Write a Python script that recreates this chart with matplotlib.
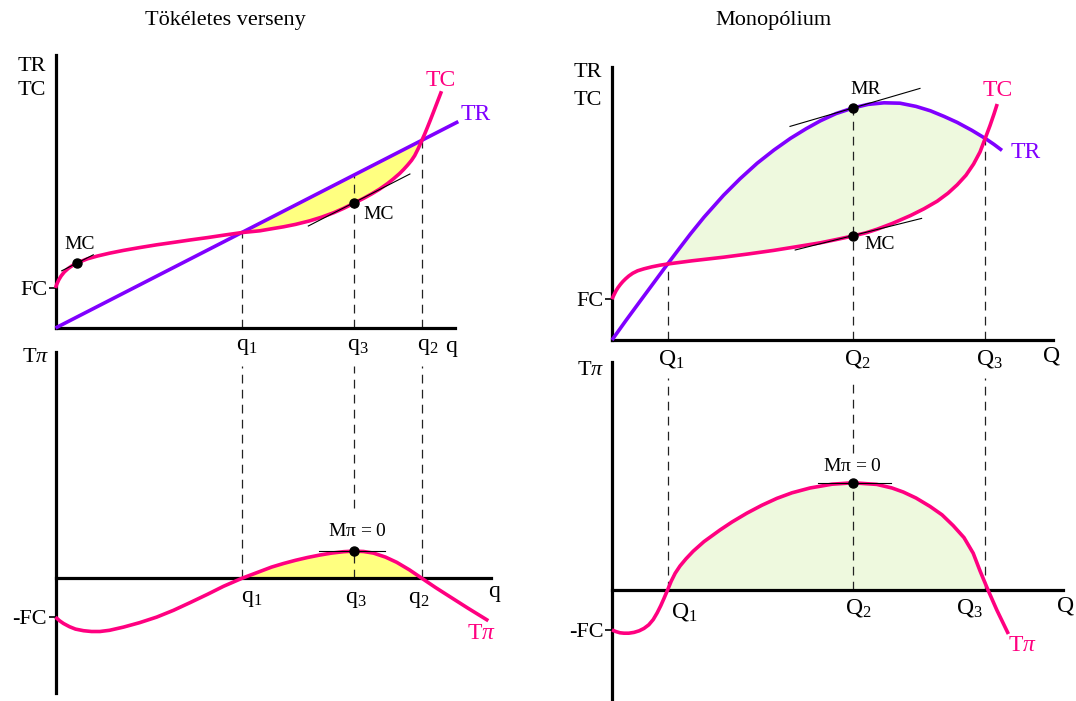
import matplotlib
matplotlib.use('Agg')
import matplotlib.pyplot as plt
import numpy as np

plt.rcParams['font.family'] = ['Liberation Serif', 'DejaVu Serif']
plt.rcParams['mathtext.fontset'] = 'custom'
plt.rcParams['mathtext.rm'] = 'Liberation Serif'
plt.rcParams['mathtext.it'] = 'Liberation Serif:italic'

W, H = 1076, 701
PX = 40  # pixels per unit, same on every panel

PINK = '#ff0080'
PURPLE = '#8000ff'
YELLOW = '#ffff80'
GREEN = '#eef9de'

# ---- perfect competition (left) ----
pc_tr_q = [0.0, 10.07]
pc_tr = [0.0, 5.16]
pc_tc_q = [0.0, 0.03, 0.08, 0.14, 0.22, 0.32, 0.45, 0.6, 0.8, 1.05, 1.35, 1.7, 2.1,
           2.53, 2.95, 3.36, 3.8, 4.2, 4.66, 5.11, 5.4, 5.7, 6.0, 6.36, 6.65, 6.95,
           7.2, 7.46, 7.7, 7.9, 8.1, 8.3, 8.45, 8.6, 8.7, 8.8, 8.9, 8.98, 9.07, 9.16,
           9.23, 9.3, 9.38, 9.45, 9.55, 9.65]
pc_tc = [1.0, 1.09, 1.20, 1.30, 1.40, 1.49, 1.58, 1.65, 1.73, 1.80, 1.87, 1.94, 2.01,
         2.08, 2.14, 2.20, 2.26, 2.32, 2.386, 2.43, 2.48, 2.53, 2.59, 2.68, 2.77, 2.88,
         2.99, 3.12, 3.24, 3.35, 3.47, 3.61, 3.73, 3.86, 3.96, 4.07, 4.19, 4.31, 4.49,
         4.693, 4.85, 5.02, 5.22, 5.40, 5.66, 5.92]
pc_fc = 1.0
pc_q1, pc_q3, pc_q2 = 4.66, 7.46, 9.16
pc_marks_q = [0.53, 7.46]
pc_marks = [1.63, 3.12]
pc_tan_left = ([0.155, 0.945], [1.43, 1.83])
pc_tan_right = ([6.32, 8.86], [2.55, 3.85])

pc_pi_q = [0.0, 0.1, 0.2, 0.35, 0.5, 0.7, 0.9, 1.11, 1.35, 1.7, 2.1, 2.53, 2.95, 3.36,
           3.8, 4.2, 4.66, 5.11, 5.4, 5.7, 6.0, 6.3, 6.6, 6.9, 7.2, 7.46, 7.7, 7.95,
           8.25, 8.53, 8.85, 9.16, 9.5, 9.86, 10.3, 10.82]
pc_pi = [-0.97, -1.06, -1.13, -1.21, -1.27, -1.31, -1.33, -1.33, -1.30, -1.22, -1.11,
         -0.97, -0.80, -0.61, -0.40, -0.20, 0.0, 0.17, 0.28, 0.37, 0.45, 0.52, 0.58,
         0.63, 0.665, 0.68, 0.67, 0.63, 0.53, 0.40, 0.21, 0.0, -0.23, -0.46, -0.74,
         -1.06]
pc_pi_max = 0.68

# ---- monopoly (right) ----
mo_tr_q = [0.0, 0.35, 0.71, 1.05, 1.39, 1.7, 1.96, 2.3, 2.79, 3.2, 3.63, 4.05, 4.46,
           4.85, 5.21, 5.6, 6.02, 6.4, 6.8, 7.2, 7.6, 7.96, 8.3, 8.63, 9.0, 9.33,
           9.55, 9.75]
mo_tr = [0.0, 0.49, 0.98, 1.44, 1.90, 2.31, 2.65, 3.07, 3.62, 4.03, 4.42, 4.75, 5.04,
         5.28, 5.48, 5.66, 5.80, 5.89, 5.93, 5.92, 5.84, 5.73, 5.59, 5.44, 5.24, 5.04,
         4.89, 4.74]
mo_tc_q = [0.0, 0.03, 0.06, 0.1, 0.15, 0.21, 0.27, 0.34, 0.42, 0.52, 0.64, 0.8, 1.0,
           1.2, 1.39, 2.0, 2.79, 3.4, 4.04, 4.6, 5.21, 5.6, 6.02, 6.35, 6.63, 7.0,
           7.46, 7.8, 8.13, 8.4, 8.63, 8.85, 9.04, 9.2, 9.33, 9.45, 9.55, 9.63]
mo_tc = [1.02, 1.09, 1.15, 1.23, 1.31, 1.39, 1.46, 1.53, 1.60, 1.67, 1.73, 1.78, 1.83,
         1.87, 1.90, 1.98, 2.07, 2.15, 2.24, 2.33, 2.43, 2.51, 2.60, 2.68, 2.77, 2.91,
         3.11, 3.28, 3.47, 3.67, 3.88, 4.12, 4.40, 4.70, 5.04, 5.36, 5.65, 5.90]
mo_fc = 1.02
mo_Q1, mo_Q2, mo_Q3 = 1.39, 6.02, 9.33
mo_mr_tan = ([4.45, 7.7], [5.34, 6.29])
mo_mc_tan = ([4.58, 7.74], [2.25, 3.04])

mo_pi_q = [0.0, 0.1, 0.2, 0.3, 0.42, 0.55, 0.68, 0.8, 0.92, 1.03, 1.13, 1.22, 1.3,
           1.39, 1.48, 1.58, 1.7, 1.85, 2.03, 2.3, 2.7, 3.0, 3.37, 3.75, 4.12, 4.5,
           4.95, 5.5, 6.02, 6.62, 7.0, 7.28, 7.6, 7.95, 8.25, 8.53, 8.8, 9.03, 9.2,
           9.4, 9.62, 9.91]
mo_pi = [-1.0, -1.04, -1.07, -1.08, -1.08, -1.06, -1.02, -0.96, -0.87, -0.74, -0.57,
         -0.39, -0.21, 0.0, 0.22, 0.42, 0.60, 0.78, 0.97, 1.21, 1.50, 1.70, 1.92, 2.12,
         2.29, 2.43, 2.55, 2.645, 2.68, 2.64, 2.55, 2.45, 2.30, 2.09, 1.88, 1.61,
         1.31, 0.92, 0.48, 0.0, -0.5, -1.1]
mo_pi_max = 2.68

fig = plt.figure(figsize=(W / 100, H / 100), dpi=100)
fig.patch.set_facecolor('white')


def panel(x0, y0, xlim, ylim):
    # x0, y0: pixel position of the origin, counted from the top left corner
    left = x0 + xlim[0] * PX
    right = x0 + xlim[1] * PX
    top = y0 - ylim[1] * PX
    bottom = y0 - ylim[0] * PX
    ax = fig.add_axes([left / W, 1 - bottom / H, (right - left) / W, (bottom - top) / H])
    ax.set_xlim(xlim)
    ax.set_ylim(ylim)
    ax.patch.set_visible(False)
    for s in ('top', 'right'):
        ax.spines[s].set_visible(False)
    for s in ('left', 'bottom'):
        ax.spines[s].set_position(('data', 0))
        ax.spines[s].set_linewidth(2.3)
        ax.spines[s].set_zorder(2.5)
    ax.set_xticks([])
    ax.tick_params(axis='y', length=5, width=1.2, pad=1, labelsize=16)
    return ax


def curve(ax, q, v, color):
    ax.plot(q, v, color=color, lw=2.6, clip_on=False, zorder=3,
            solid_capstyle='butt', solid_joinstyle='round')


def dashes(ax, xs, tops, bottoms=0):
    ax.vlines(xs, bottoms, tops, colors='#222222', linestyles=(0, (7, 5)), lw=0.9,
              clip_on=False, zorder=2)


def dots(ax, q, v):
    ax.plot(q, v, 'o', color='black', ms=6.5, clip_on=False, zorder=4)


def thin(ax, seg):
    ax.plot(seg[0], seg[1], color='black', lw=0.8, clip_on=False, zorder=3.5)


def label(ax, x, y, s, size=17, color='black'):
    ax.text(x, y, s, ha='center', va='center', fontsize=size, color=color)


MPI = 'M$\\mathrm{\\pi}$ = 0'

fig.text(225 / W, 1 - 20 / H, 'Tökéletes verseny', ha='center', va='center', fontsize=16)
fig.text(773 / W, 1 - 21 / H, 'Monopólium', ha='center', va='center', fontsize=16)

# top left: TR and TC under perfect competition
ax = panel(55.5, 328, (0, 9.99), (0, 6.83))
ax.set_yticks([pc_fc], ['FC'])
sel = (np.array(pc_tc_q) >= pc_q1) & (np.array(pc_tc_q) <= pc_q2)
ax.fill(np.array(pc_tc_q)[sel], np.array(pc_tc)[sel], color=YELLOW, lw=0, zorder=1)
dashes(ax, [pc_q1, pc_q3, pc_q2], [np.interp(x, pc_tr_q, pc_tr) for x in (pc_q1, pc_q3, pc_q2)])
curve(ax, pc_tr_q, pc_tr, PURPLE)
curve(ax, pc_tc_q, pc_tc, PINK)
thin(ax, pc_tan_left)
thin(ax, pc_tan_right)
dots(ax, pc_marks_q, pc_marks)
label(ax, -0.59, 6.53, 'TR', 16)
label(ax, -0.59, 5.93, 'TC', 16)
label(ax, 0.61, 2.08, 'MC', 14)
label(ax, 8.09, 2.85, 'MC', 14)
label(ax, 9.64, 6.2, 'TC', 17, PINK)
label(ax, 10.51, 5.33, 'TR', 17, PURPLE)
label(ax, pc_q1 + 0.12, -0.45, 'q$_1$')
label(ax, pc_q3 + 0.1, -0.45, 'q$_3$')
label(ax, pc_q2 + 0.15, -0.45, 'q$_2$')
label(ax, 9.89, -0.45, 'q')

# bottom left: total profit
ax = panel(55.5, 578.3, (0, 10.9), (-2.87, 5.66))
ax.set_yticks([pc_pi[0]], ['-FC'])
sel = np.array(pc_pi) >= 0
ax.fill(np.array(pc_pi_q)[sel], np.array(pc_pi)[sel], color=YELLOW, lw=0, zorder=1)
# the q3 guide breaks for the label and picks up again under the peak
dashes(ax, [pc_q1, pc_q3, pc_q2], [5.3, 5.3, 5.3], [0, 1.76, 0])
dashes(ax, [pc_q3], [pc_pi_max])
curve(ax, pc_pi_q, pc_pi, PINK)
thin(ax, ([6.59, 8.24], [pc_pi_max, pc_pi_max]))
dots(ax, [pc_q3], [pc_pi_max])
label(ax, -0.49, 5.53, 'T$\\pi$', 16)
label(ax, 7.54, 1.18, MPI, 14)
label(ax, 10.66, -1.39, 'T$\\pi$', 17, PINK)
label(ax, 10.96, -0.32, 'q')
label(ax, 4.91, -0.5, 'q$_1$')
label(ax, pc_q3 + 0.05, -0.52, 'q$_3$')
label(ax, 9.09, -0.52, 'q$_2$')

# top right: TR and TC of the monopoly
ax = panel(612, 340, (0, 11.03), (0, 6.83))
ax.set_yticks([mo_fc], ['FC'])
tr_q, tr_v = np.array(mo_tr_q), np.array(mo_tr)
tc_q, tc_v = np.array(mo_tc_q), np.array(mo_tc)
a = (tr_q >= mo_Q1) & (tr_q <= mo_Q3)
b = (tc_q >= mo_Q1) & (tc_q <= mo_Q3)
ax.fill(np.r_[tr_q[a], tc_q[b][::-1]], np.r_[tr_v[a], tc_v[b][::-1]],
        color=GREEN, lw=0, zorder=1)
q2_tr = np.interp(mo_Q2, mo_tr_q, mo_tr)
q2_tc = np.interp(mo_Q2, mo_tc_q, mo_tc)
dashes(ax, [mo_Q1, mo_Q2, mo_Q3],
       [np.interp(mo_Q1, mo_tr_q, mo_tr), q2_tr, np.interp(mo_Q3, mo_tr_q, mo_tr)])
curve(ax, mo_tr_q, mo_tr, PURPLE)
curve(ax, mo_tc_q, mo_tc, PINK)
thin(ax, mo_mr_tan)
thin(ax, mo_mc_tan)
dots(ax, [mo_Q2, mo_Q2], [q2_tr, q2_tc])
label(ax, -0.6, 6.68, 'TR', 16)
label(ax, -0.6, 5.98, 'TC', 16)
label(ax, 6.35, 6.25, 'MR', 14)
label(ax, 6.7, 2.38, 'MC', 14)
label(ax, 9.63, 6.25, 'TC', 17, PINK)
label(ax, 10.33, 4.7, 'TR', 17, PURPLE)
label(ax, mo_Q1 + 0.09, -0.47, 'Q$_1$')
label(ax, mo_Q2 + 0.11, -0.47, 'Q$_2$')
label(ax, mo_Q3 + 0.1, -0.47, 'Q$_3$')
label(ax, 10.98, -0.4, 'Q')

# bottom right: total profit of the monopoly
ax = panel(612, 590, (0, 11.28), (-2.78, 5.7))
ax.set_yticks([mo_pi[0]], ['-FC'])
sel = np.array(mo_pi) >= 0
ax.fill(np.array(mo_pi_q)[sel], np.array(mo_pi)[sel], color=GREEN, lw=0, zorder=1)
dashes(ax, [mo_Q1, mo_Q2, mo_Q3], [5.3, 5.3, 5.3], [0, 3.43, 0])
dashes(ax, [mo_Q2], [mo_pi_max])
curve(ax, mo_pi_q, mo_pi, PINK)
thin(ax, ([5.16, 6.97], [mo_pi_max, mo_pi_max]))
dots(ax, [mo_Q2], [mo_pi_max])
label(ax, -0.53, 5.5, 'T$\\pi$', 16)
label(ax, 6.0, 3.08, MPI, 14)
label(ax, 10.25, -1.38, 'T$\\pi$', 17, PINK)
label(ax, 11.35, -0.4, 'Q')
label(ax, 1.8, -0.55, 'Q$_1$')
label(ax, 6.15, -0.45, 'Q$_2$')
label(ax, 8.93, -0.45, 'Q$_3$')

fig.savefig('out.png', dpi=100)
